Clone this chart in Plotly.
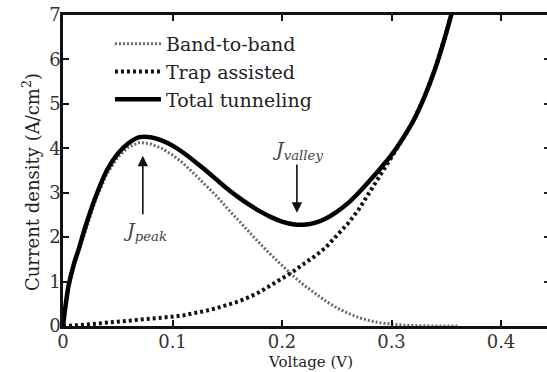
import plotly.graph_objects as go

# Bias voltage (V)
voltage = [0, 0.002, 0.005, 0.01, 0.015, 0.02, 0.03, 0.04, 0.05, 0.06, 0.07, 0.08,
           0.09, 0.10, 0.11, 0.12, 0.13, 0.14, 0.15, 0.16, 0.17, 0.18, 0.19, 0.20,
           0.21, 0.22, 0.23, 0.24, 0.25, 0.26, 0.27, 0.28, 0.29, 0.30, 0.31, 0.32,
           0.33, 0.34, 0.35, 0.36]

# Current density components (A/cm^2)
band_to_band = [0, 0.35, 0.85, 1.35, 1.72, 2.12, 2.85, 3.42, 3.80, 4.03, 4.13, 4.10,
                4.00, 3.85, 3.66, 3.42, 3.18, 2.93, 2.65, 2.38, 2.10, 1.85, 1.60, 1.36,
                1.13, 0.92, 0.73, 0.56, 0.41, 0.29, 0.19, 0.12, 0.07, 0.04, 0.02, 0.01,
                0.0, 0.0, 0.0, 0.0]
trap_assisted = [0, 0.0, 0.01, 0.02, 0.02, 0.03, 0.05, 0.07, 0.09, 0.11, 0.13, 0.16,
                 0.18, 0.21, 0.24, 0.28, 0.34, 0.40, 0.47, 0.55, 0.65, 0.77, 0.92, 1.07,
                 1.22, 1.40, 1.57, 1.77, 2.02, 2.30, 2.62, 3.00, 3.40, 3.80, 4.20, 4.62,
                 5.15, 5.80, 6.60, 7.50]
total_tunneling = [0, 0.40, 0.90, 1.40, 1.78, 2.20, 2.92, 3.50, 3.88, 4.12, 4.25, 4.25,
                   4.18, 4.06, 3.90, 3.71, 3.51, 3.30, 3.09, 2.90, 2.73, 2.58, 2.45, 2.35,
                   2.29, 2.28, 2.32, 2.42, 2.57, 2.76, 3.00, 3.27, 3.55, 3.85, 4.21, 4.62,
                   5.15, 5.80, 6.60, 7.50]

x_ticks = [0, 0.1, 0.2, 0.3, 0.4]
x_tick_text = ["0", "0.1", "0.2", "0.3", "0.4"]
y_ticks = [0, 1, 2, 3, 4, 5, 6, 7]
y_tick_text = ["0", "1", "2", "3", "4", "5", "6", "7"]

# Marked peak and valley points: (voltage, arrow tail, arrow head)
peak_arrow = (0.0729, 2.48, 3.83)
valley_arrow = (0.2136, 3.67, 2.55)

FONT = "DejaVu Serif"

# Canvas and plot-area geometry (px)
W, H = 547, 372
L, R, T, B = 63, 0, 15, 46
pw, ph = W - L - R, H - T - B


def px_to_paper(px, py):
    return (px - L) / pw, (H - B - py) / ph


fig = go.Figure()
fig.add_trace(go.Scatter(
    x=voltage, y=band_to_band, mode="lines", name="Band-to-band",
    legendgroup="a", line=dict(color="#6a6a6a", width=3, dash="2px,2px")))
fig.add_trace(go.Scatter(
    x=voltage, y=trap_assisted, mode="lines", name="Trap assisted",
    legendgroup="b", line=dict(color="#111111", width=4, dash="3px,3px")))
fig.add_trace(go.Scatter(
    x=voltage, y=total_tunneling, mode="lines", name="Total tunneling",
    legendgroup="c", line=dict(color="#000000", width=4.5, shape="spline", smoothing=0.6)))
# Invisible trace carrying the right-hand tick marks
fig.add_trace(go.Scatter(x=[0], y=[0], yaxis="y2", mode="none", showlegend=False,
                         hoverinfo="skip"))

xt_x, xt_y = px_to_paper(310, 362)
yt_x, yt_y = px_to_paper(31, 182)

annotations = [
    dict(x=peak_arrow[0], y=peak_arrow[2], ax=peak_arrow[0], ay=peak_arrow[1],
         xref="x", yref="y", axref="x", ayref="y", text="", showarrow=True,
         arrowhead=2, arrowsize=1.3, arrowwidth=1.6, arrowcolor="#111"),
    dict(x=valley_arrow[0], y=valley_arrow[2], ax=valley_arrow[0], ay=valley_arrow[1],
         xref="x", yref="y", axref="x", ayref="y", text="", showarrow=True,
         arrowhead=2, arrowsize=1.3, arrowwidth=1.6, arrowcolor="#111"),
    dict(x=0.075, y=2.12, xref="x", yref="y", showarrow=False,
         text="<i>J</i><sub><i>peak</i></sub>",
         font=dict(family=FONT, size=19, color="#444")),
    dict(x=0.214, y=3.96, xref="x", yref="y", showarrow=False,
         text="<i>J</i><sub><i>valley</i></sub>",
         font=dict(family=FONT, size=19, color="#444")),
    dict(x=xt_x, y=xt_y, xref="paper", yref="paper", xanchor="center", yanchor="middle",
         showarrow=False, text="Voltage (V)",
         font=dict(family=FONT, size=15, color="#222")),
    dict(x=yt_x, y=yt_y, xref="paper", yref="paper", xanchor="center", yanchor="middle",
         showarrow=False, textangle=-90,
         text="Current density (A/cm<sup>2</sup>)",
         font=dict(family=FONT, size=18, color="#222")),
]

fig.update_layout(
    width=W, height=H,
    margin=dict(l=L, r=R, t=T, b=B),
    paper_bgcolor="white", plot_bgcolor="white",
    font=dict(family=FONT, size=18, color="#222"),
    showlegend=True,
    legend=dict(x=0.097, y=0.968, xanchor="left", yanchor="top",
                bgcolor="rgba(0,0,0,0)", borderwidth=0,
                traceorder="grouped", tracegroupgap=0, itemwidth=46,
                font=dict(family=FONT, size=19, color="#222")),
    annotations=annotations,
    xaxis=dict(range=[0, 0.442], tickvals=x_ticks, ticktext=x_tick_text,
               ticks="inside", ticklen=6, tickwidth=2, tickcolor="#111",
               showline=True, linewidth=2.5, linecolor="#111", mirror="ticks",
               showgrid=False, zeroline=False, ticklabelstandoff=-2,
               tickfont=dict(family=FONT, size=18, color="#333")),
    yaxis=dict(range=[0, 7], tickvals=y_ticks, ticktext=y_tick_text,
               ticks="inside", ticklen=6, tickwidth=2, tickcolor="#111",
               showline=True, linewidth=2.5, linecolor="#111", mirror=False,
               showgrid=False, zeroline=False, ticklabelstandoff=-4,
               tickfont=dict(family=FONT, size=18, color="#333")),
    yaxis2=dict(range=[0, 7], tickvals=y_ticks[1:7], overlaying="y", side="right",
                ticks="inside", ticklen=3, tickwidth=2, tickcolor="#222",
                showline=False, showticklabels=False, showgrid=False, zeroline=False),
)

fig.write_html("out.html")
